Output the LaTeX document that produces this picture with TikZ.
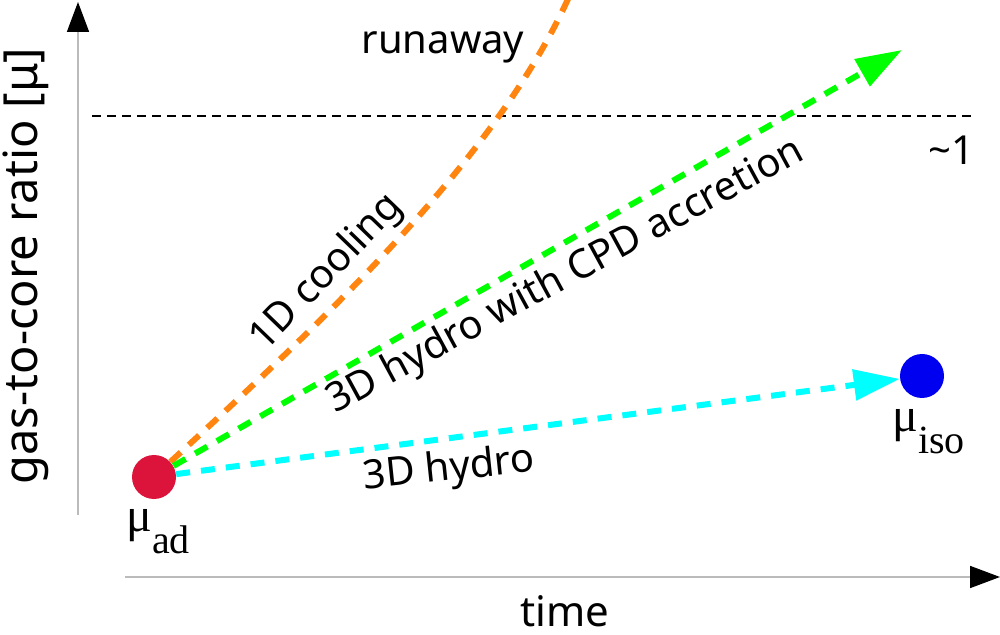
\documentclass[tikz,border=0pt]{standalone}
\usepackage{fontspec}
\setmainfont{Noto Sans}
\newfontfamily\serifgr{Liberation Serif}
\usetikzlibrary{arrows.meta}
\definecolor{dotred}{HTML}{DC143C}
\definecolor{dotblue}{HTML}{0000F0}
\definecolor{runorange}{HTML}{FF8410}
\definecolor{cpdgreen}{HTML}{00FF00}
\definecolor{hydrocyan}{HTML}{00FFFF}
\definecolor{axisgray}{HTML}{BBBBBB}
\begin{document}
\begin{tikzpicture}[x=0.5pt,y=-0.5pt,
  lbl/.style={font=\fontsize{20}{24}\selectfont, inner sep=0pt},
  mulbl/.style={font=\serifgr\fontsize{24}{28}\selectfont, inner sep=0pt, anchor=base west},
  dot/.style={circle, minimum size=22pt, inner sep=0pt},
  track/.style={line width=3pt, dash pattern=on 7pt off 5.5pt},
  head/.style={-{Triangle[length=23pt,width=15pt]}},
  axis/.style={draw=axisgray, line width=0.8pt, -{Triangle[length=15pt,width=11pt,color=black]}},
  level/.style={line width=1.4pt, dash pattern=on 4.5pt off 3pt}]
\useasboundingbox (0,0) rectangle (1000,635);
\clip (0,0) rectangle (1000,635);
% axes
\coordinate (ybot) at (78,515);
\coordinate (ytop) at (78,2);
\coordinate (xleft) at (125,577);
\coordinate (xright) at (1000,577);
\draw[axis] (ybot) -- (ytop);
\draw[axis] (xleft) -- (xright);
\node[lbl, font=\fontsize{23.5}{28}\selectfont, rotate=90] (ylab) at (26,266) {gas-to-core ratio [μ]};
\node[lbl, font=\fontsize{21}{25}\selectfont] (xlab) at (565,611) {time};
% level line
\coordinate (lvl1) at (92,116);
\coordinate (lvl2) at (972,116);
\draw[level] (lvl1) -- (lvl2);
\node[lbl] (one) at (951,150) {\textasciitilde1};
% dots
\node[dot, fill=dotred] (ad) at (154,477) {};
\node[dot, fill=dotblue] (iso) at (922,376) {};
\node[mulbl] (adlbl) at (126,531) {μ\raisebox{-11pt}{\fontsize{20}{24}\selectfont ad}};
\node[mulbl] (isolbl) at (892,432) {μ\raisebox{-11pt}{\fontsize{20}{24}\selectfont iso}};
% tracks
\coordinate (gtip) at (902,50);
\coordinate (otop) at (577,-22);
\draw[track, runorange] (ad) .. controls (322,322) and (508,150) .. (otop);
\draw[track, cpdgreen, head] (ad) -- (gtip);
\draw[track, hydrocyan, head] (ad) -- (iso);
% labels
\node[lbl] (runaway) at (443,47) {runaway};
\node[lbl, rotate=46] (cool) at (327,273) {1D cooling};
\node[lbl, rotate=28.5] (cpd) at (566,277) {3D hydro with CPD accretion};
\node[lbl, rotate=6] (hydro) at (449,470) {3D hydro};
\end{tikzpicture}
\end{document}
